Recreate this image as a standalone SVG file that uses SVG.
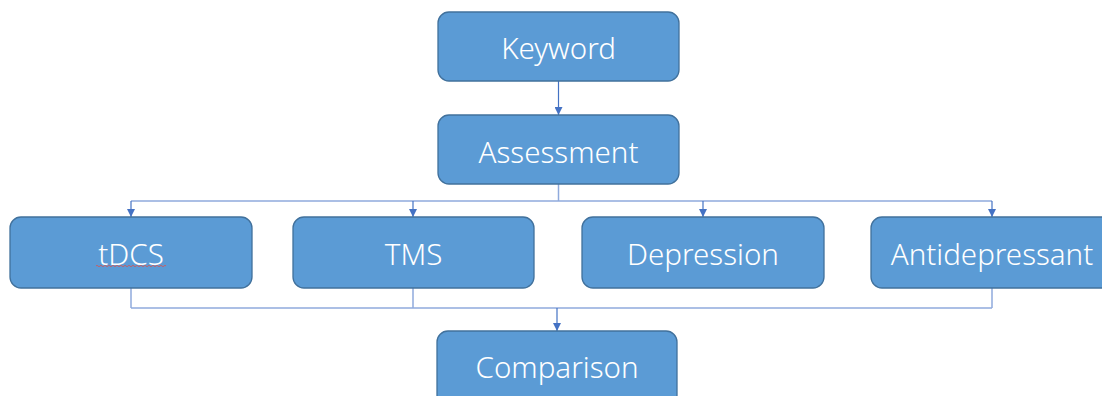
<svg xmlns="http://www.w3.org/2000/svg" width="1102" height="396" viewBox="0 0 1102 396">
<style>
.box{fill:#5b9bd5;stroke:#41719c;stroke-width:1.3}
.lbl{fill:#ffffff;font-family:"Noto Sans","Open Sans","Liberation Sans",sans-serif;font-size:29.5px;font-weight:300;text-anchor:middle;dominant-baseline:central}
.ln{fill:none;stroke:#8faadc;stroke-width:1.5}
.ar{fill:none;stroke:#4472c4;stroke-width:1.2}
</style>
<defs>
<marker id="arr" markerWidth="8" markerHeight="8" refX="8" refY="4" orient="auto" markerUnits="userSpaceOnUse">
<path d="M0,0 L8,4 L0,8 Z" fill="#4472c4"/>
</marker>
</defs>
<rect width="1102" height="396" fill="#ffffff"/>
<g id="connectors">
<line class="ar" x1="558.5" y1="81" x2="558.5" y2="115" marker-end="url(#arr)"/>
<line class="ln" x1="558.5" y1="184" x2="558.5" y2="201"/>
<line class="ln" x1="131" y1="201" x2="992" y2="201"/>
<line class="ar" x1="131" y1="201" x2="131" y2="217" marker-end="url(#arr)"/>
<line class="ar" x1="413" y1="201" x2="413" y2="217" marker-end="url(#arr)"/>
<line class="ar" x1="703" y1="201" x2="703" y2="217" marker-end="url(#arr)"/>
<line class="ar" x1="992" y1="201" x2="992" y2="217" marker-end="url(#arr)"/>
<line class="ln" x1="131" y1="288" x2="131" y2="308"/>
<line class="ln" x1="413" y1="288" x2="413" y2="308"/>
<line class="ln" x1="992" y1="288" x2="992" y2="308"/>
<line class="ln" x1="131" y1="308" x2="992" y2="308"/>
<line class="ar" x1="557" y1="308" x2="557" y2="331" marker-end="url(#arr)"/>
</g>
<g id="keyword"><rect class="box" x="438" y="12" width="241" height="69" rx="11"/><text class="lbl" x="558.5" y="47">Keyword</text></g>
<g id="assessment"><rect class="box" x="438" y="115" width="241" height="69" rx="11"/><text class="lbl" x="558.5" y="151">Assessment</text></g>
<g id="tdcs"><rect class="box" x="10" y="217" width="242" height="71" rx="11"/><text class="lbl" x="131" y="253">tDCS</text>
<path d="M96,266 q1,-1.5 2,0 t2,0 t2,0 t2,0 t2,0 t2,0 t2,0 t2,0 t2,0 t2,0 t2,0 t2,0 t2,0 t2,0 t2,0 t2,0 t2,0 t2,0 t2,0 t2,0 t2,0 t2,0 t2,0 t2,0 t2,0 t2,0 t2,0 t2,0 t2,0 t2,0 t2,0 t2,0 t2,0 t2,0 t2,0" fill="none" stroke="#d9534f" stroke-width="0.8"/></g>
<g id="tms"><rect class="box" x="293" y="217" width="241" height="71" rx="11"/><text class="lbl" x="413.5" y="253">TMS</text></g>
<g id="depression"><rect class="box" x="582" y="217" width="242" height="71" rx="11"/><text class="lbl" x="703" y="253">Depression</text></g>
<g id="antidepressant"><rect class="box" x="871" y="217" width="242" height="71" rx="11"/><text class="lbl" x="992" y="253">Antidepressant</text></g>
<g id="comparison"><rect class="box" x="437" y="331" width="240" height="75" rx="11"/><text class="lbl" x="557" y="366">Comparison</text></g>
</svg>
